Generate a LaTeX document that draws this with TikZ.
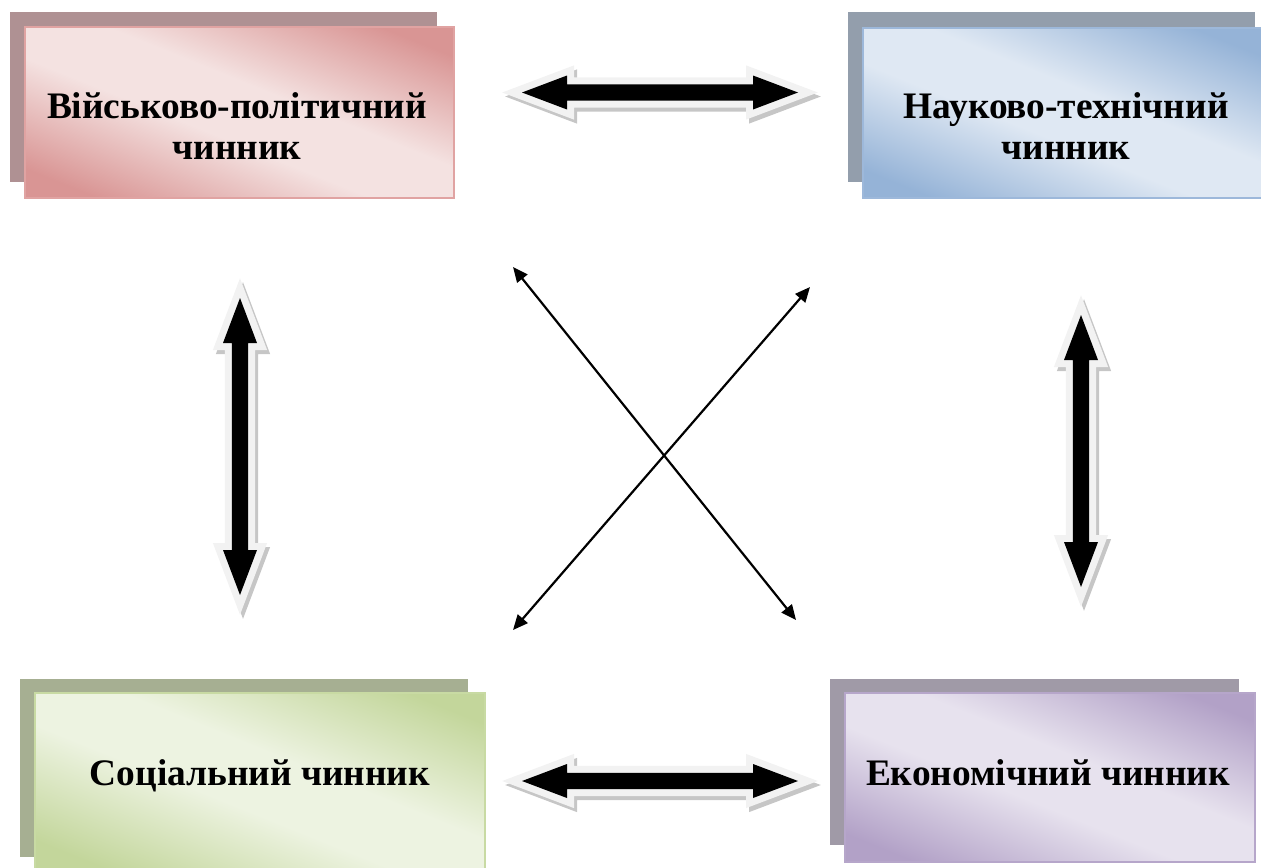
\documentclass[tikz,border=0pt]{standalone}
\usepackage{fontspec}
\setmainfont{Liberation Serif}
\usetikzlibrary{arrows.meta,calc}
\definecolor{pinkD}{HTML}{D99594}
\definecolor{pinkL}{HTML}{F4E2E1}
\definecolor{pinkS}{HTML}{AF9193}
\definecolor{pinkB}{HTML}{E0A3A2}
\definecolor{blueD}{HTML}{95B3D7}
\definecolor{blueL}{HTML}{DFE8F3}
\definecolor{blueS}{HTML}{939EAC}
\definecolor{blueB}{HTML}{9DB8DA}
\definecolor{greenD}{HTML}{C3D69B}
\definecolor{greenL}{HTML}{EDF3E1}
\definecolor{greenS}{HTML}{A6AF92}
\definecolor{greenB}{HTML}{C8DAA3}
\definecolor{purpD}{HTML}{B2A1C7}
\definecolor{purpL}{HTML}{E7E2EE}
\definecolor{purpS}{HTML}{A09AA7}
\definecolor{purpB}{HTML}{B6A6CA}
\definecolor{arrlight}{HTML}{F2F2F2}
\definecolor{arrshadow}{HTML}{C6C6C6}
\colorlet{shD}{pinkD}
\colorlet{shL}{pinkL}
\pgfdeclareverticalshading[shD,shL]{boxshade}{100bp}{color(0bp)=(shD); color(23bp)=(shD); color(44bp)=(shL); color(56bp)=(shL); color(77bp)=(shD); color(100bp)=(shD)}
\newcommand\arrshape[2]{%
  \filldraw[#1] (-#2,0) -- (-#2+45,-17) -- (-#2+45,-8.2) -- (#2-45,-8.2) -- (#2-45,-17) -- (#2,0)
    -- (#2-45,17) -- (#2-45,8.2) -- (-#2+45,8.2) -- (-#2+45,17) -- cycle;}
\newcommand\blockarr[3]{%
  \begin{scope}[shift={($(#1)+(3,4)$)},rotate=#3]
    \arrshape{arrshadow,line width=7pt,line join=miter,miter limit=10}{#2}
  \end{scope}
  \begin{scope}[shift={(#1)},rotate=#3]
    \arrshape{arrlight,line width=7pt,line join=miter,miter limit=10}{#2}
    \arrshape{black,line width=0pt,draw=none}{#2}
  \end{scope}}
\begin{document}
\begin{tikzpicture}[x=0.5pt,y=-0.5pt,
  factor/.style n args={3}{/utils/exec={\colorlet{shD}{#1}\colorlet{shL}{#2}},
    draw=#3,line width=1.2pt,inner sep=0pt,outer sep=0pt,
    shading=boxshade,shading angle=-22},
  label/.style={font=\bfseries\fontsize{18.7}{20.5}\selectfont,align=center,anchor=base,inner sep=0pt},
  thinarrow/.style={line width=1.1pt,{Triangle[length=7.5pt,width=6.5pt]}-{Triangle[length=7.5pt,width=6.5pt]}}]
\useasboundingbox (0,0) rectangle (1261,867);
% shadows
\fill[pinkS] (10,12) rectangle (437,182);
\fill[blueS] (848,12) rectangle (1255,182);
\fill[greenS] (20,679) rectangle (468,857);
\fill[purpS] (830,679) rectangle (1239,845);
% boxes
\node[factor={pinkD}{pinkL}{pinkB},minimum width=214.5pt,minimum height=85.5pt] (vp) at (239.5,112.5) {};
\node[factor={blueD}{blueL}{blueB},minimum width=200pt,minimum height=85pt] (nt) at (1063,113) {};
\node[factor={greenD}{greenL}{greenB},minimum width=225pt,minimum height=89pt] (so) at (260,782) {};
\node[factor={purpD}{purpL}{purpB},minimum width=205pt,minimum height=84.5pt] (ek) at (1050,777.5) {};
% texts
\node[label] (vpt) at (237,159) {Військово-політичний\\чинник};
\node[label] (ntt) at (1066,159) {Науково-технічний\\чинник};
\node[label] (sot) at (260,785) {Соціальний чинник};
\node[label] (ekt) at (1048,785) {Економічний чинник};
% block arrows
\coordinate (top) at (660,92.5);
\coordinate (bot) at (660,781);
\coordinate (lft) at (240,446.5);
\coordinate (rgt) at (1081,451);
\blockarr{top}{138}{0}
\blockarr{bot}{138}{0}
\blockarr{lft}{148.5}{90}
\blockarr{rgt}{136}{90}
% thin crossing arrows
\coordinate (a1) at (513,267);
\coordinate (a2) at (796,620);
\coordinate (b1) at (513,630);
\coordinate (b2) at (810,287);
\draw[thinarrow] (a1) -- (a2);
\draw[thinarrow] (b1) -- (b2);
\end{tikzpicture}
\end{document}
